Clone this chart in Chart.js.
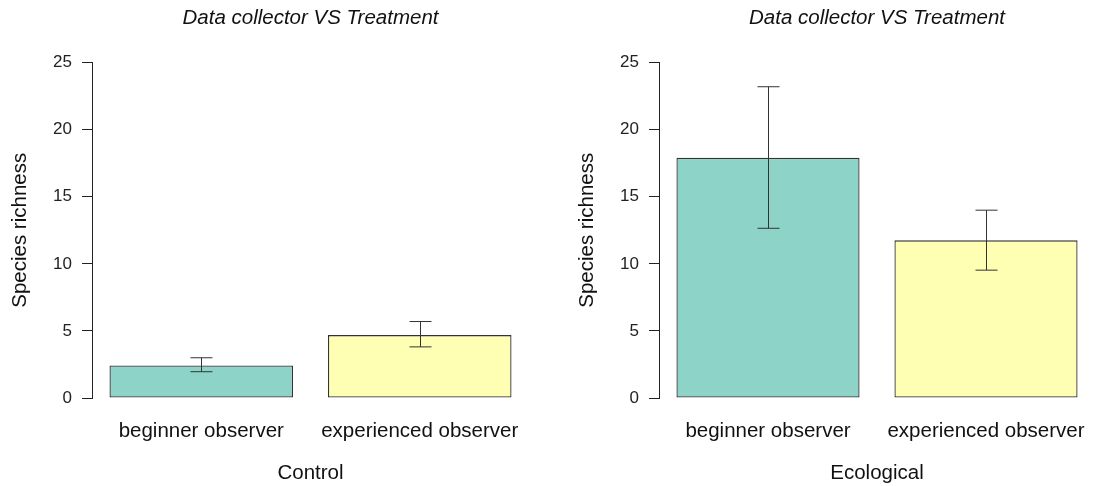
<!DOCTYPE html>
<html>
<head>
<meta charset="utf-8">
<script src="https://cdn.jsdelivr.net/npm/chart.js@4"></script>
<style>
  body { margin: 0; background: #fff; }
  .wrap { position: relative; width: 1096px; height: 486px; }
  .panel { position: absolute; top: 0; width: 548px; height: 486px; }
</style>
</head>
<body>
<div class="wrap">
  <div class="panel" style="left:0"><canvas id="control"></canvas></div>
  <div class="panel" style="left:548px"><canvas id="ecological"></canvas></div>
</div>
<script>
const categories = ["beginner observer", "experienced observer"];
const barColors = ["#8DD3C7", "#FFFFB3"];

// means and error bar ends
const controlMeans = [2.43, 4.69];
const controlLow = [1.96, 3.81];
const controlHigh = [3.0, 5.7];

const ecoMeans = [17.9, 11.75];
const ecoLow = [12.65, 9.53];
const ecoHigh = [23.2, 14.0];

const yTicks = [0, 5, 10, 15, 20, 25];

const FONT = "'Liberation Sans', Arial, sans-serif";

const errorBars = {
  id: "errorBars",
  afterLayout(chart) {
    // centre the title over the plot area, like R does
    const tb = chart.titleBlock;
    if (tb) {
      tb.left = chart.chartArea.left;
      tb.right = chart.chartArea.right;
      tb.width = tb.right - tb.left;
    }
  },
  afterDatasetsDraw(chart, args, opts) {
    const ctx = chart.ctx;
    const meta = chart.getDatasetMeta(0);
    const y = chart.scales.y;
    ctx.save();
    ctx.strokeStyle = "#333";
    ctx.lineWidth = 1;
    meta.data.forEach((bar, i) => {
      const x = Math.round(bar.x) + 0.5;
      const top = y.getPixelForValue(opts.high[i]);
      const bot = y.getPixelForValue(opts.low[i]);
      ctx.beginPath();
      ctx.moveTo(x, top); ctx.lineTo(x, bot);
      ctx.moveTo(x - 11, top); ctx.lineTo(x + 11, top);
      ctx.moveTo(x - 11, bot); ctx.lineTo(x + 11, bot);
      ctx.stroke();
    });
    ctx.restore();
  }
};

function makeChart(id, means, low, high, xTitle, padLeft, padRight) {
  new Chart(document.getElementById(id), {
    type: "bar",
    data: {
      labels: categories,
      datasets: [{
        data: means,
        backgroundColor: barColors,
        borderColor: "#333",
        borderWidth: 1.3,
        borderSkipped: false,
        barPercentage: 1,
        categoryPercentage: 0.84
      }]
    },
    options: {
      responsive: false,
      animation: false,
      devicePixelRatio: 1,
      layout: { padding: { left: padLeft, right: padRight, top: 0, bottom: 0 } },
      plugins: {
        legend: { display: false },
        tooltip: { enabled: false },
        title: {
          display: true,
          text: "Data collector VS Treatment",
          color: "#111",
          font: { family: FONT, size: 20.5, style: "italic", weight: "normal" },
          padding: { top: 6, bottom: 32 }
        },
        errorBars: { low: low, high: high }
      },
      scales: {
        x: {
          grid: { display: true, drawOnChartArea: false, drawTicks: true, tickLength: 21, color: "rgba(0,0,0,0)" },
          border: { display: false },
          ticks: { color: "#111", padding: 0, font: { family: FONT, size: 20.5 } },
          title: {
            display: true,
            text: xTitle,
            color: "#111",
            font: { family: FONT, size: 20.5 },
            padding: { top: 4, bottom: 0 }
          },
          afterFit(scale) { scale.height = 88; }
        },
        y: {
          min: 0,
          max: 25,
          afterBuildTicks(scale) { scale.ticks = yTicks.map(v => ({ value: v })); },
          grid: { drawOnChartArea: false, drawTicks: true, tickLength: 10, color: "#222" },
          border: { display: true, color: "#222", width: 1 },
          ticks: { color: "#222", padding: 10, font: { family: FONT, size: 17 } },
          title: {
            display: true,
            text: "Species richness",
            color: "#111",
            font: { family: FONT, size: 20.5 },
            padding: { top: 8, bottom: 0 }
          },
          afterFit(scale) { scale.width = 92; }
        }
      }
    },
    plugins: [errorBars]
  });
}

document.getElementById("control").width = 548;
document.getElementById("control").height = 486;
document.getElementById("ecological").width = 548;
document.getElementById("ecological").height = 486;

makeChart("control", controlMeans, controlLow, controlHigh, "Control", 0, 19);
makeChart("ecological", ecoMeans, ecoLow, ecoHigh, "Ecological", 19, 1);
</script>
</body>
</html>
